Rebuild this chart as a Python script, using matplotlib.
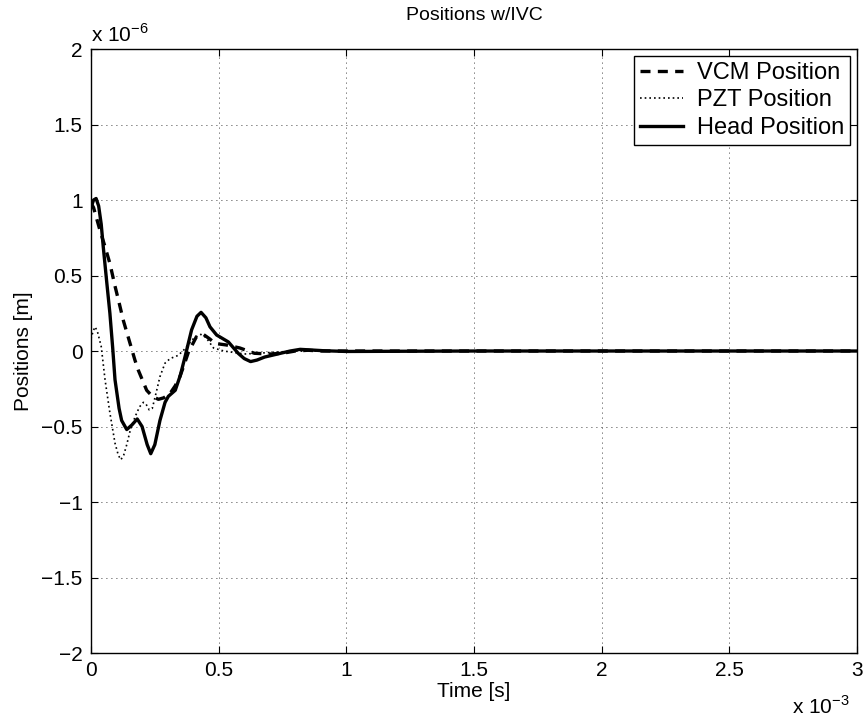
import matplotlib
matplotlib.use('Agg')
import matplotlib.pyplot as plt

plt.rcParams['font.family'] = ['Liberation Sans', 'DejaVu Sans']
plt.rcParams['mathtext.fontset'] = 'custom'
plt.rcParams['mathtext.rm'] = 'Liberation Sans'

# time in units of 1e-3 s, position in units of 1e-6 m
t_head = [0, 0.01, 0.02, 0.03, 0.04, 0.048, 0.062, 0.074, 0.085, 0.094, 0.11, 0.12,
          0.14, 0.16, 0.181, 0.2, 0.22, 0.234, 0.25, 0.27, 0.29, 0.303, 0.33, 0.35,
          0.368, 0.394, 0.415, 0.431, 0.45, 0.466, 0.492, 0.538, 0.577, 0.6, 0.625,
          0.65, 0.68, 0.74, 0.78, 0.819, 0.87, 0.91, 1.0, 1.5, 3.0]
y_head = [0.95, 1.0, 1.01, 0.96, 0.84, 0.69, 0.45, 0.25, 0.02, -0.19, -0.38, -0.46,
          -0.52, -0.49, -0.45, -0.50, -0.62, -0.68, -0.62, -0.46, -0.34, -0.30, -0.26, -0.16,
          -0.04, 0.14, 0.23, 0.256, 0.22, 0.16, 0.106, 0.06, -0.016, -0.05, -0.07,
          -0.06, -0.04, -0.016, 0.0, 0.011, 0.006, 0.002, -0.003, 0.0, 0.0]

t_vcm = [0, 0.01, 0.035, 0.055, 0.074, 0.094, 0.11, 0.127, 0.153, 0.172, 0.185, 0.218,
         0.24, 0.264, 0.285, 0.31, 0.33, 0.348, 0.365, 0.381, 0.413, 0.44, 0.465, 0.486,
         0.53, 0.583, 0.64, 0.7, 0.75, 0.8, 0.85, 0.9, 1.0, 3.0]
y_vcm = [0.98, 0.95, 0.8, 0.69, 0.58, 0.43, 0.32, 0.2, 0.05, -0.06, -0.126, -0.26,
         -0.30, -0.32, -0.31, -0.28, -0.23, -0.17, -0.09, -0.01, 0.095, 0.11, 0.08, 0.05,
         0.04, 0.02, -0.015, -0.02, -0.015, 0.0, 0.005, 0.0, 0.0, 0.0]

t_pzt = [0, 0.008, 0.016, 0.025, 0.04, 0.055, 0.074, 0.094, 0.107, 0.117, 0.128, 0.14,
         0.153, 0.165, 0.174, 0.19, 0.205, 0.215, 0.228, 0.24, 0.256, 0.27, 0.29, 0.31,
         0.34, 0.36, 0.4, 0.43, 0.45, 0.48, 0.52, 0.56, 0.6, 0.7, 0.8, 1.0, 3.0]
y_pzt = [0.08, 0.13, 0.16, 0.13, 0.03, -0.19, -0.41, -0.61, -0.69, -0.72, -0.69, -0.62,
         -0.53, -0.47, -0.43, -0.37, -0.34, -0.35, -0.39, -0.38, -0.27, -0.17, -0.08, -0.05,
         -0.03, 0.0, 0.08, 0.11, 0.09, 0.02, 0.0, -0.01, -0.02, -0.01, 0.0, 0.0, 0.0]

fig = plt.figure(figsize=(8.65, 7.25), dpi=100)
ax = fig.add_axes([0.1052, 0.0993, 0.8856, 0.8331])

ax.plot(t_vcm, y_vcm, color='k', lw=2.4, ls=(0, (3, 2.2)), label='VCM Position')
ax.plot(t_pzt, y_pzt, color='k', lw=1.2, ls=(0, (1, 1.8)), label='PZT Position')
ax.plot(t_head, y_head, color='k', lw=2.4, ls='-', label='Head Position')

ax.set_xlim(0, 3)
ax.set_ylim(-2, 2)
ax.set_xticks([0, 0.5, 1, 1.5, 2, 2.5, 3])
ax.set_xticklabels(['0', '0.5', '1', '1.5', '2', '2.5', '3'])
ax.set_yticks([-2, -1.5, -1, -0.5, 0, 0.5, 1, 1.5, 2])
ax.set_yticklabels(['\u22122', '\u22121.5', '\u22121', '\u22120.5', '0', '0.5', '1', '1.5', '2'])
ax.tick_params(direction='in', top=True, right=True, length=5, labelsize=15, pad=6)
ax.grid(True, color='k', lw=0.6, ls=(0, (1, 5)))
for s in ax.spines.values():
    s.set_linewidth(1.0)

ax.set_title('Positions w/IVC', fontsize=14, pad=21)
ax.set_xlabel('Time [s]', fontsize=15, labelpad=1)
ax.set_ylabel('Positions [m]', fontsize=15, labelpad=6)

ax.text(0.0, 1.005, r'x 10$^{\mathregular{-6}}$', transform=ax.transAxes,
        ha='left', va='bottom', fontsize=15)
ax.text(0.99, -0.07, r'x 10$^{\mathregular{-3}}$', transform=ax.transAxes,
        ha='right', va='top', fontsize=15)

leg = ax.legend(loc='upper right', fontsize=17, fancybox=False, framealpha=1,
                edgecolor='k', borderaxespad=0.3, handlelength=1.8,
                handletextpad=0.6, borderpad=0.25, labelspacing=0.23)
leg.get_frame().set_linewidth(1.0)

fig.savefig('out.png', dpi=100)
